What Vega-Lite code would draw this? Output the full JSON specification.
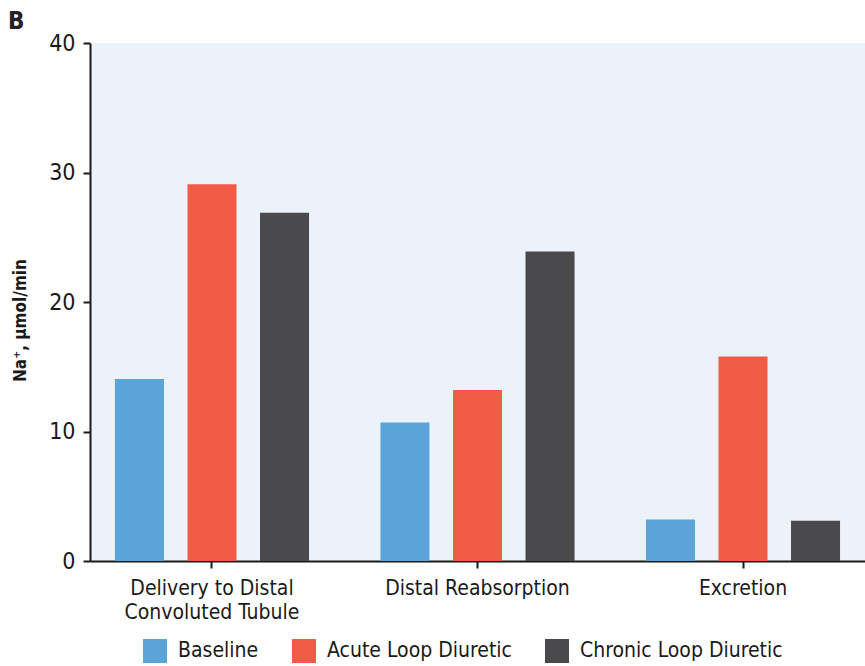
{
  "$schema": "https://vega.github.io/schema/vega-lite/v6.json",
  "width": 775,
  "height": 518,
  "autosize": {"type": "none"},
  "padding": {"left": 90, "top": 43, "right": 0, "bottom": 105},
  "background": "white",
  "title": {"text": "B", "anchor": "start", "frame": "group", "dx": -82, "dy": 17, "offset": 15, "fontSize": 24, "fontWeight": "bold", "font": "DejaVu Sans Condensed", "color": "#222222"},
  "config": {
    "view": {"fill": "#EBF2FA", "stroke": null},
    "font": "DejaVu Sans Condensed",
    "axis": {"domainColor": "#1a1a1a", "domainWidth": 2, "tickColor": "#1a1a1a", "tickWidth": 2, "tickSize": 7, "grid": false, "labelColor": "#1a1a1a", "labelFont": "DejaVu Sans Condensed", "titleFont": "DejaVu Sans Condensed"}
  },
  "data": {"values": [
    {"category": "Delivery to Distal Convoluted Tubule", "group": "Baseline", "value": 14.05},
    {"category": "Delivery to Distal Convoluted Tubule", "group": "Acute Loop Diuretic", "value": 29.1},
    {"category": "Delivery to Distal Convoluted Tubule", "group": "Chronic Loop Diuretic", "value": 26.9},
    {"category": "Distal Reabsorption", "group": "Baseline", "value": 10.7},
    {"category": "Distal Reabsorption", "group": "Acute Loop Diuretic", "value": 13.2},
    {"category": "Distal Reabsorption", "group": "Chronic Loop Diuretic", "value": 23.9},
    {"category": "Excretion", "group": "Baseline", "value": 3.2},
    {"category": "Excretion", "group": "Acute Loop Diuretic", "value": 15.8},
    {"category": "Excretion", "group": "Chronic Loop Diuretic", "value": 3.1}
  ]},
  "mark": {"type": "bar"},
  "encoding": {
    "x": {
      "field": "category", "type": "nominal", "sort": null,
      "scale": {"paddingInner": 0.269, "paddingOuter": 0.094},
      "axis": {"title": null, "labelAngle": 0, "labelFontSize": 21, "labelPadding": 9, "labelLineHeight": 24, "labelBaseline": "top", "labelLimit": 400,
        "labelExpr": "datum.value == 'Delivery to Distal Convoluted Tubule' ? ['Delivery to Distal', 'Convoluted Tubule'] : datum.value"}
    },
    "xOffset": {"field": "group", "type": "nominal", "sort": ["Baseline", "Acute Loop Diuretic", "Chronic Loop Diuretic"], "scale": {"paddingInner": 0.324, "paddingOuter": 0}},
    "y": {
      "field": "value", "type": "quantitative",
      "scale": {"domain": [0, 40], "nice": false},
      "axis": {"values": [0, 10, 20, 30, 40], "title": "Na⁺, µmol/min", "titleFontSize": 17, "titleFontWeight": "bold", "titleColor": "#1a1a1a", "titleX": -70, "titleY": 277, "titleAngle": -90, "titleAlign": "center", "titleBaseline": "middle", "labelFontSize": 23, "labelPadding": 8}
    },
    "color": {
      "field": "group", "type": "nominal",
      "sort": ["Baseline", "Acute Loop Diuretic", "Chronic Loop Diuretic"],
      "scale": {"domain": ["Baseline", "Acute Loop Diuretic", "Chronic Loop Diuretic"], "range": ["#5BA4DA", "#F25C46", "#4A4A4C"]},
      "legend": {"title": null, "orient": "none", "direction": "horizontal", "legendX": 53, "legendY": 596, "symbolType": "square", "symbolSize": 576, "symbolStrokeWidth": 0, "symbolOpacity": 1, "labelFontSize": 21, "labelColor": "#1a1a1a", "labelOffset": 11, "columnPadding": 33, "labelLimit": 400}
    }
  }
}
